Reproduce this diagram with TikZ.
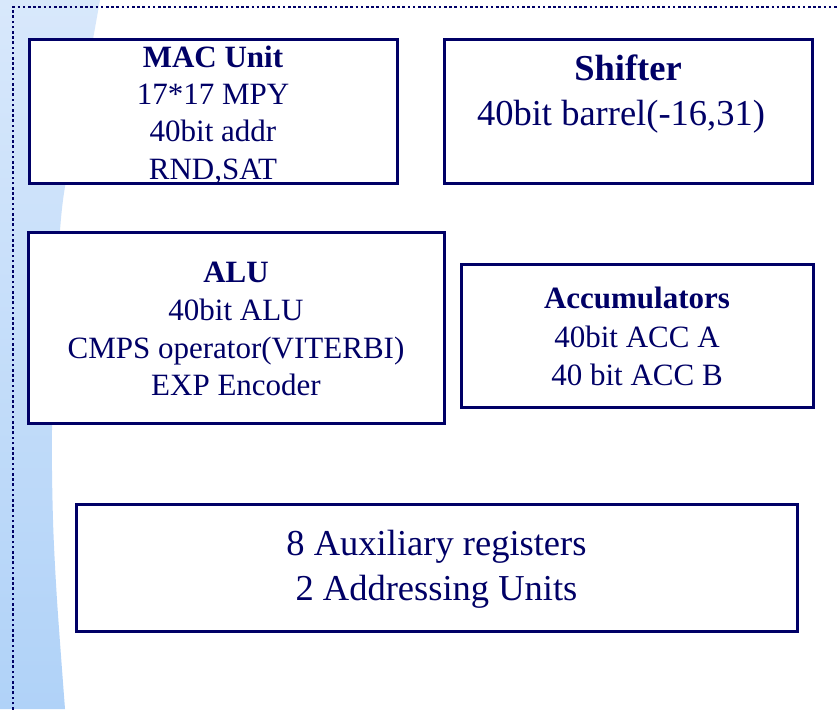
\documentclass[tikz,border=0pt]{standalone}
\usepackage{fontspec}
\setmainfont{Liberation Serif}
\definecolor{navy}{RGB}{0,0,102}
\definecolor{paleblue}{RGB}{216,232,251}
\definecolor{midblue}{RGB}{176,210,248}
\begin{document}
\begin{tikzpicture}[x=1pt,y=-1pt,
  blk/.style={draw=navy, line width=3pt, fill=white, inner sep=0pt},
  ln/.style={inner sep=0pt, anchor=base, text=navy, font=\fontsize{31}{37}\selectfont},
  hd/.style={ln, font=\fontsize{31}{37}\selectfont\bfseries},
  lnbig/.style={ln, font=\fontsize{36.5}{44}\selectfont},
  hdbig/.style={ln, font=\fontsize{36.5}{44}\selectfont\bfseries}]
\useasboundingbox (0,0) rectangle (837,709);
% slide background: white with a pale blue band on the left
\fill[white] (0,0) rectangle (837,709);
\shade[top color=paleblue, bottom color=midblue]
  (0,0) -- plot[smooth] coordinates {(100,0) (82,100) (63,200) (56,300) (52,430) (53,520) (57,600) (65,709)} -- (0,709) -- cycle;
% dotted frame
\draw[navy, line width=2.6pt, dash pattern=on 2.6pt off 2.6pt] (13,720) -- (13,7) -- (850,7);
% functional blocks
\node[blk, minimum width=368pt, minimum height=143pt] (mac) at (213,111.5) {};
\node[blk, minimum width=368pt, minimum height=143pt] (shift) at (628,111.5) {};
\node[blk, minimum width=416pt, minimum height=191pt] (alu) at (236,327.5) {};
\node[blk, minimum width=352pt, minimum height=143pt] (acc) at (637,335.5) {};
\node[blk, minimum width=721pt, minimum height=127pt] (aux) at (436.5,567.5) {};
% MAC unit
\node[hd] (mac0) at (213,67) {MAC Unit};
\node[ln] (mac1) at (213,104) {17*17 MPY};
\node[ln] (mac2) at (213,141) {40bit addr};
\node[ln] (mac3) at (213,179) {RND,SAT};
% shifter
\node[hdbig] (sh0) at (628,80) {Shifter};
\node[lnbig] (sh1) at (621,125) {40bit barrel(-16,31)};
% ALU
\node[hd] (alu0) at (236,282) {ALU};
\node[ln] (alu1) at (236,320) {40bit ALU};
\node[ln] (alu2) at (236,358) {CMPS operator(VITERBI)};
\node[ln] (alu3) at (236,395) {EXP Encoder};
% accumulators
\node[hd] (acc0) at (637,308) {Accumulators};
\node[ln] (acc1) at (637,347) {40bit ACC A};
\node[ln] (acc2) at (637,385) {40 bit ACC B};
% address generation
\node[lnbig] (aux0) at (436.5,555) {8 Auxiliary registers};
\node[lnbig] (aux1) at (436.5,600) {2 Addressing Units};
\end{tikzpicture}
\end{document}
